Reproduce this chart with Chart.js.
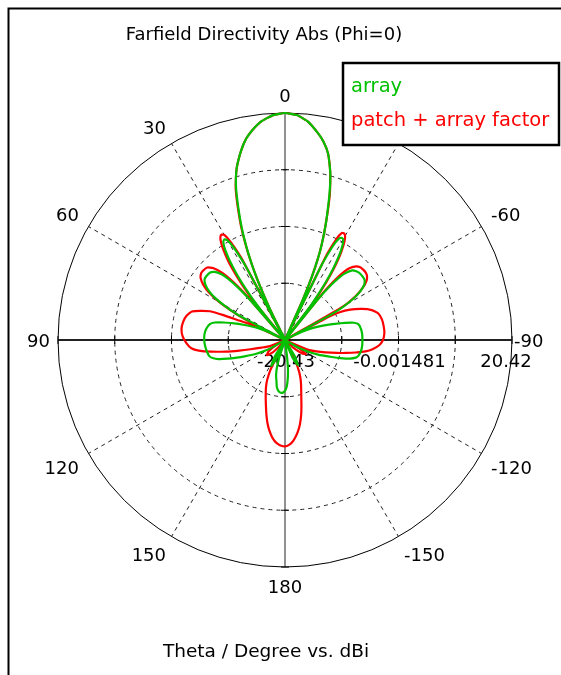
<!DOCTYPE html>
<html><head><meta charset="utf-8">
<script src="https://cdn.jsdelivr.net/npm/chart.js@4.4.0/dist/chart.umd.min.js"></script>
<style>html,body{margin:0;padding:0;background:#fff}#wrap{position:relative;width:561px;height:675px}</style>
</head><body><div id="wrap"><canvas id="c" width="561" height="675"></canvas></div>
<script>
// ---------- data ----------
const titleText = 'Farfield Directivity Abs (Phi=0)';
const axisTitle = 'Theta / Degree vs. dBi';
const seriesNames = ['array', 'patch + array factor'];
const angleTickLabels = [0, 30, 60, 90, 120, 150, 180, -150, -120, -90, -60];
const radialTickValues = [-20.43, -10.2157, -0.001481, 10.21, 20.42];
const radialTickLabels = ['-20.43', '', '-0.001481', '', '20.42'];
const rMin = -20.43, rMax = 20.42;

// theta in degrees (counter-clockwise from 0 at top), directivity in dBi
const arrayTheta = [
  -178,-177,-176,-175,-174,-173,-172,-160,-157,-153,-149,-146,
  -121,-120,-118,-116,-114,-112,-110,-108,-106,-104,-102,-98,-94,-90,-86,-82,-78,-76,-74,-72,-70,-68,-66,-64,-63,
  -62,-61,-59,-57,-55,-53,-51,-48,-46,-44,-42,-41,-40,-39,-38,
  -37,-36,-35,-34,-33,-32,-31,-30,-29,-28,-27,-26,-25,
  -24,-23,-22,-21,-20,-19,-18,-17,-16,-15,-13,-11,-9,-6,-3,0,
  3,6,9,11,13,15,16,17,18,19,20,21,22,23,24,25,26,27,
  28,29,30,31,32,33,34,35,36,37,38,39,40,
  41,42,43,44,46,48,51,53,55,57,59,61,62,63,
  64,66,68,70,72,74,76,78,82,86,90,94,98,102,104,106,108,110,112,114,116,118,120,121,
  144,148,152,155,158,162,164,166,168,170,172,174,177,180
];
const arrayDb = [
  -12.0,-12.6,-13.4,-14.3,-15.3,-17.5,-20.43,-20.43,-17.0,-15.3,-17.0,-20.43,
  -20.43,-17.8,-16.5,-15.3,-14.1,-12.9,-11.5,-9.9,-8.3,-7.3,-6.9,-6.6,-6.5,-6.5,-6.5,-6.6,-6.9,-7.6,-9.2,-11.0,-12.6,-14.0,-15.4,-17.0,-18.5,
  -20.43,-10.0,-6.2,-4.2,-3.0,-2.5,-2.4,-2.4,-2.6,-3.0,-4.3,-5.5,-7.4,-11.0,-20.43,
  -13.5,-10.0,-7.2,-4.9,-3.0,-1.4,-0.2,0.5,0.6,0.2,-1.5,-6.0,-20.43,
  -13.0,-8.0,-4.6,-2.0,0.3,2.5,4.6,6.9,9.1,11.0,14.0,15.9,17.3,19.1,20.1,20.42,
  20.1,19.2,17.7,16.4,14.6,12.5,11.3,9.8,8.0,5.8,3.6,1.4,-1.0,-3.6,-6.6,-10.2,-14.5,-20.43,
  -6.0,-1.5,0.3,0.7,0.5,-0.3,-1.6,-3.2,-5.2,-7.5,-10.5,-14.5,-20.43,
  -11.0,-7.2,-5.2,-4.0,-2.8,-2.3,-2.2,-2.3,-2.9,-4.0,-5.8,-8.8,-11.5,-20.43,
  -17.0,-15.3,-13.8,-12.4,-10.8,-9.0,-7.4,-6.6,-6.1,-5.9,-5.9,-6.0,-6.2,-6.5,-7.0,-8.0,-9.6,-11.2,-12.6,-13.8,-15.0,-16.2,-17.5,-20.43,
  -20.43,-17.0,-15.2,-16.5,-20.43,-17.0,-15.0,-13.8,-13.0,-11.9,-11.3,-11.0,-10.9,-11.3
];

const patchTheta = [
  -178,-176,-174,-172,-170,-168,-166,-164,-162,-160,-158,-156,-154,-153,
  -137,-133,-128,-124,-119,-116,-113,-110,-107,-104,-102,-100,-98,-96,-93,-90,-86,-82,-78,-74,-71,-68,-65,-63,-62,
  -61,-60,-58,-56,-54,-52,-50,-48,-46,-44,-42,-41,-40,-39,-38,
  -37,-36,-35,-34,-33,-32,-31,-30,-29,-28,-27,-26,-25,
  -24,-23,-22,-21,-20,-19,-18,-17,-16,-15,-13,-11,-9,-6,-3,0,
  3,6,9,11,13,15,16,17,18,19,20,21,22,23,24,25,26,27,
  28,29,30,31,32,33,34,35,36,37,38,39,40,
  41,42,43,45,47,50,52,54,56,58,60,62,63,64,
  65,66,67,68,69,71,73,76,80,84,88,92,95,97,99,101,103,105,108,112,116,
  120,125,130,135,138,140,153,
  154,156,158,160,162,164,166,168,170,172,174,176,178,180
];
const patchDb = [
  -1.5,-2.0,-2.8,-3.8,-5.0,-6.5,-8.2,-9.8,-11.0,-12.0,-13.0,-14.2,-16.0,-20.43,
  -20.43,-18.5,-16.5,-15.9,-18.5,-20.43,-16.0,-14.4,-12.8,-10.8,-9.2,-7.5,-5.8,-4.6,-3.4,-2.8,-2.5,-2.5,-2.6,-3.0,-3.9,-5.5,-7.5,-9.4,-11.5,
  -20.43,-8.5,-5.3,-3.5,-2.3,-1.7,-1.5,-1.5,-1.6,-2.0,-3.0,-4.0,-5.8,-9.0,-20.43,
  -12.5,-9.0,-6.3,-4.1,-2.3,-0.8,0.4,1.2,1.5,1.4,0.0,-4.0,-20.43,
  -13.0,-8.0,-4.6,-2.0,0.3,2.5,4.9,7.2,9.1,11.0,14.0,15.9,17.3,19.1,20.1,20.42,
  20.1,19.2,17.7,16.4,14.6,12.5,11.3,9.8,8.3,6.2,4.0,1.8,-0.7,-3.4,-6.6,-10.2,-14.5,-20.43,
  -4.0,-0.3,1.4,1.7,1.5,0.8,-0.3,-1.8,-3.5,-5.8,-8.5,-12.5,-20.43,
  -9.0,-5.8,-3.9,-2.1,-1.3,-1.1,-1.2,-1.7,-2.7,-4.3,-6.8,-10.5,-14.0,-20.43,
  -15.0,-13.0,-11.6,-8.5,-6.0,-4.3,-2.9,-2.2,-1.8,-1.7,-2.0,-2.7,-3.5,-4.8,-7.0,-9.5,-12.0,-14.0,-16.0,-17.5,-20.43,
  -18.5,-16.8,-16.2,-17.2,-19.0,-20.43,-20.43,
  -14.5,-12.5,-11.3,-10.3,-9.2,-8.0,-6.6,-5.2,-4.0,-3.0,-2.2,-1.7,-1.4,-1.3
];

// ---------- build the radar table (one category per degree) ----------
const N = 360;
const categories = Array.from({length: N}, (_, i) => (i === 0 ? 0 : (i <= 180 ? -i : 360 - i)));
const idxOf = t => ((Math.round(-t) % 360) + 360) % 360;
function toSeries(thetas, vals) {
  const arr = new Array(N).fill(null);
  thetas.forEach((t, k) => { arr[idxOf(t)] = Math.max(vals[k], rMin); });
  return arr;
}
const GREEN = '#00c000', RED = '#ff0000';
const FONT_FAMILY = '"DejaVu Sans", Verdana, sans-serif';

const decor = {
  id: 'decor',
  beforeDatasetsDraw(chart) {
    const s = chart.scales.r, ctx = chart.ctx;
    ctx.save();
    ctx.strokeStyle = '#000'; ctx.lineWidth = 1;
    [0, 90, 180, 270].forEach(idx => {
      radialTickValues.forEach((v, k) => {
        if (k === 0) return;
        const d = s.getDistanceFromCenterForValue(v);
        const p = s.getPointPosition(idx, d);
        const a = s.getIndexAngle(idx) - Math.PI / 2;
        const nx = -Math.sin(a), ny = Math.cos(a);
        ctx.beginPath(); ctx.moveTo(p.x - nx * 4, p.y - ny * 4); ctx.lineTo(p.x + nx * 4, p.y + ny * 4); ctx.stroke();
      });
    });
    ctx.font = '18px ' + FONT_FAMILY; ctx.fillStyle = '#000';
    ctx.textAlign = 'center'; ctx.textBaseline = 'middle';
    radialTickValues.forEach((v, k) => {
      if (!radialTickLabels[k]) return;
      const p = s.getPointPosition(90, s.getDistanceFromCenterForValue(v));
      const shift = k === radialTickValues.length - 1 ? -6 : 1;
      ctx.fillText(radialTickLabels[k], p.x + shift, p.y + 22);
    });
    ctx.restore();
  },
  afterDraw(chart) {
    const s = chart.scales.r, ctx = chart.ctx;
    ctx.save();
    ctx.fillStyle = '#000';
    ctx.font = '18px ' + FONT_FAMILY;
    ctx.textAlign = 'center'; ctx.textBaseline = 'alphabetic';
    ctx.fillText(titleText, 264, 39.5);
    ctx.font = '18.5px ' + FONT_FAMILY;
    ctx.fillText(axisTitle, 266, 657);
    // angle labels: nearest corner of the label sits on the ray
    ctx.font = '18px ' + FONT_FAMILY;
    angleTickLabels.forEach(t => {
      const idx = idxOf(t);
      const txt = String(t);
      const a = s.getIndexAngle(idx) - Math.PI / 2;
      const dx = Math.cos(a), dy = Math.sin(a);
      const gap = (t === -90) ? 2 : (t === 90 ? 8 : 11);
      const p = s.getPointPosition(idx, s.drawingArea + gap);
      ctx.textAlign = dx < -0.1 ? 'right' : (dx > 0.1 ? 'left' : 'center');
      const cap = 13;
      const y = dy < -0.1 ? p.y : (dy > 0.1 ? p.y + cap + 2 : p.y + cap / 2);
      ctx.textBaseline = 'alphabetic';
      ctx.fillText(txt, p.x, y);
    });
    // legend box
    ctx.fillStyle = '#fff'; ctx.fillRect(343, 63, 216, 82);
    ctx.strokeStyle = '#000'; ctx.lineWidth = 2.5; ctx.strokeRect(343, 63, 216, 82);
    ctx.textAlign = 'left'; ctx.textBaseline = 'alphabetic';
    ctx.font = '19.5px ' + FONT_FAMILY;
    ctx.fillStyle = GREEN; ctx.fillText(seriesNames[0], 351, 91.5);
    ctx.fillStyle = RED; ctx.fillText(seriesNames[1], 351, 125.5);
    // frame
    ctx.strokeStyle = '#000'; ctx.lineWidth = 2;
    ctx.beginPath(); ctx.moveTo(561, 8.5); ctx.lineTo(8.5, 8.5); ctx.lineTo(8.5, 675); ctx.stroke();
    ctx.restore();
  }
};

new Chart(document.getElementById('c'), {
  type: 'radar',
  data: {
    labels: categories,
    datasets: [
      { label: seriesNames[0], data: toSeries(arrayTheta, arrayDb), borderColor: GREEN, borderWidth: 2.2,
        pointRadius: 0, fill: false, spanGaps: true, tension: 0.15 },
      { label: seriesNames[1], data: toSeries(patchTheta, patchDb), borderColor: RED, borderWidth: 2.2,
        pointRadius: 0, fill: false, spanGaps: true, tension: 0.15 }
    ]
  },
  options: {
    responsive: false, animation: false,
    layout: { padding: { left: 58, top: 113, right: 49, bottom: 108 } },
    plugins: { legend: { display: false }, tooltip: { enabled: false }, title: { display: false } },
    elements: { line: { capBezierPoints: false } },
    scales: {
      r: {
        min: rMin, max: rMax,
        afterBuildTicks: (sc) => { sc.ticks = radialTickValues.map(v => ({ value: v })); },
        ticks: { display: false },
        pointLabels: { display: false },
        grid: { circular: true, color: (c) => (c.index === 4 ? '#000' : '#222'), lineWidth: (c) => (c.index === 0 ? 0 : 1) },
        border: { dash: (c) => (c.index === 4 ? [] : [4, 4]) },
        angleLines: {
          color: '#222',
          lineWidth: (c) => (c.index % 30 === 0 ? (c.index % 180 === 90 ? 2 : 1) : 0),
          borderDash: (c) => (c.index % 90 === 0 ? [] : [4, 4])
        }
      }
    }
  },
  plugins: [decor]
});
</script>
</body></html>
